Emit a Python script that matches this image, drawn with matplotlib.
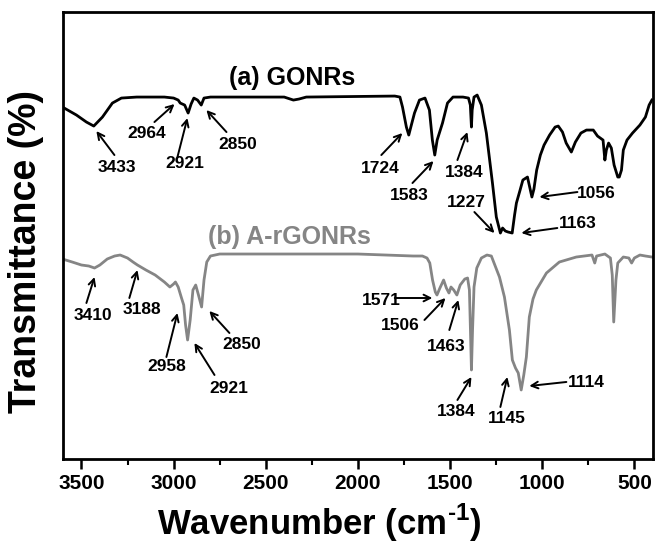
import numpy as np
import matplotlib
matplotlib.use("Agg")
import matplotlib.pyplot as plt

plt.rcParams['font.family'] = ['Liberation Sans', 'DejaVu Sans']
plt.rcParams['font.weight'] = 'bold'
plt.rcParams['mathtext.fontset'] = 'custom'
plt.rcParams['mathtext.rm'] = 'Liberation Sans:bold'
plt.rcParams['mathtext.bf'] = 'Liberation Sans:bold'

# (a) GONRs spectrum: wavenumber (cm-1) and transmittance (a.u.)
wn_a = [3603, 3527, 3473, 3433, 3386, 3332, 3283, 3200, 3050, 3000, 2975, 2964,
        2940, 2921, 2905, 2890, 2870, 2850, 2835, 2800, 2400, 2350, 2320, 2280,
        1800, 1772, 1758, 1737, 1724, 1710, 1693, 1666, 1636, 1612, 1596, 1583,
        1570, 1541, 1514, 1484, 1460, 1430, 1400, 1390, 1384, 1380, 1370, 1353,
        1330, 1303, 1270, 1249, 1227, 1215, 1200, 1185, 1163, 1150, 1140, 1120,
        1105, 1080, 1068, 1056, 1045, 1030, 1010, 990, 960, 930, 913, 890, 870,
        842, 820, 790, 760, 723, 700, 670, 660, 652, 640, 625, 610, 590, 582,
        570, 560, 540, 510, 470, 440, 420, 405]
t_a = [352, 344, 337, 333, 342, 356, 361, 362, 362, 361, 359, 356,
       354, 346, 355, 361, 359, 354, 361, 362, 362, 359, 360, 362,
       363, 362, 352, 332, 324, 334, 346, 359, 361, 349, 319, 304,
       319, 336, 356, 362, 362, 362, 361, 354, 332, 349, 362, 364,
       354, 326, 276, 242, 226, 231, 228, 227, 226, 244, 256, 269,
       279, 282, 272, 262, 270, 289, 304, 314, 324, 332, 333, 327, 316,
       307, 317, 326, 329, 329, 323, 319, 299, 309, 316, 311, 294, 282, 282,
       289, 309, 319, 326, 334, 342, 354, 359]

# (b) A-rGONRs spectrum
wn_b = [3603, 3550, 3500, 3460, 3429, 3400, 3360, 3320, 3290, 3250, 3220, 3196,
        3150, 3100, 3050, 3020, 3000, 2990, 2975, 2957, 2945, 2935, 2924, 2910,
        2895, 2880, 2865, 2848, 2835, 2820, 2800, 2750, 2500, 2000, 1700, 1650,
        1625, 1610, 1595, 1580, 1571, 1555, 1535, 1520, 1506, 1495, 1480, 1463,
        1445, 1420, 1405, 1395, 1388, 1384, 1378, 1370, 1355, 1330, 1300, 1276,
        1232, 1205, 1178, 1162, 1145, 1130, 1114, 1100, 1086, 1070, 1050, 1032,
        977, 907, 815, 730, 715, 705, 660, 630, 620, 612, 600, 590, 560, 530,
        515, 500, 470, 440, 405]
t_b = [200, 197, 194, 193, 191, 194, 200, 203, 204, 201, 197, 194,
       189, 184, 177, 172, 175, 177, 172, 161, 154, 134, 119, 139,
       169, 174, 164, 152, 179, 197, 203, 205, 205, 205, 203, 203,
       201, 196, 179, 167, 164, 171, 179, 171, 166, 172, 169, 164,
       174, 180, 181, 169, 119, 89, 129, 172, 191, 201, 204, 203,
       182, 162, 129, 99, 91, 86, 69, 84, 102, 142, 160, 169,
       186, 197, 202, 204, 196, 203, 205, 201, 184, 137, 179, 196, 202, 201,
       196, 201, 204, 203, 202]

# peak labels: text, text position, arrow tail, arrow tip (wavenumber, transmittance)
labels_a = ['3433', '2964', '2921', '2850', '1724', '1583', '1384', '1227', '1163', '1056']
text_a = [(3305, 292), (3147, 326), (2941, 296), (2654, 315), (1878, 291),
          (1721, 264), (1422, 287), (1411, 257), (809, 236), (706, 266)]
tail_a = [(3321, 304), (3104, 337), (2979, 302), (2713, 327), (1873, 304),
          (1704, 276), (1460, 299), (1368, 247), (918, 231), (809, 267)]
tip_a = [(3419, 328), (2995, 355), (2925, 341), (2822, 349), (1759, 326),
         (1590, 298), (1406, 327), (1259, 226), (1113, 226), (1015, 262)]

labels_b = ['3410', '3188', '2958', '2921', '2850', '1571', '1506', '1463', '1384', '1145', '1114']
text_b = [(3440, 144), (3169, 150), (3039, 92), (2703, 70), (2632, 114),
          (1873, 159), (1769, 133), (1520, 112), (1466, 47), (1194, 40), (760, 76)]
tail_b = [(3473, 156), (3240, 161), (3039, 102), (2778, 84), (2697, 126),
          (1800, 161), (1639, 139), (1504, 129), (1460, 59), (1227, 52), (869, 77)]
tip_b = [(3429, 182), (3196, 189), (2979, 146), (2887, 116), (2806, 148),
         (1596, 161), (1525, 161), (1455, 159), (1384, 82), (1189, 82), (1070, 73)]

black = '#000000'
gray = '#858585'

fig = plt.figure(figsize=(6.59, 5.49), dpi=100)
ax = fig.add_axes([0.0956, 0.164, 0.895, 0.814])

ax.plot(wn_a, t_a, color=black, lw=2.0)
ax.plot(wn_b, t_b, color=gray, lw=2.0)

ax.text(2355, 381, '(a) GONRs', color=black, fontsize=18, fontweight='bold',
        ha='center', va='center')
ax.text(2371, 222, '(b) A-rGONRs', color=gray, fontsize=18, fontweight='bold',
        ha='center', va='center')

for labels, texts, tails, tips in [(labels_a, text_a, tail_a, tip_a),
                                   (labels_b, text_b, tail_b, tip_b)]:
    for lab, txt, tl, tp in zip(labels, texts, tails, tips):
        ax.text(txt[0], txt[1], lab, fontsize=12.5, fontweight='bold',
                ha='center', va='center')
        ax.annotate('', xy=tp, xytext=tl,
                    arrowprops=dict(arrowstyle='->', color='black', lw=1.4,
                                    mutation_scale=12, shrinkA=0, shrinkB=0))

ax.set_xlim(3600, 400)
ax.set_ylim(0, 447)
ax.set_xticks([3500, 3000, 2500, 2000, 1500, 1000, 500])
ax.set_xticks(np.arange(3250, 400, -500), minor=True)
ax.set_yticks([])
ax.tick_params(axis='x', which='major', direction='out', length=7, width=1.8,
               labelsize=15, pad=4)
ax.tick_params(axis='x', which='minor', direction='out', length=4, width=1.5)
for lbl in ax.get_xticklabels():
    lbl.set_fontweight('bold')
for sp in ax.spines.values():
    sp.set_linewidth(2.0)

ax.set_xlabel('Wavenumber (cm$^{\\text{-1}}$)', fontsize=25, fontweight='bold')
ax.xaxis.set_label_coords(0.435, -0.095)
ax.set_ylabel('Transmittance (%)', fontsize=27, fontweight='bold')
ax.yaxis.set_label_coords(-0.032, 0.465)

plt.savefig('out.png', dpi=100)
